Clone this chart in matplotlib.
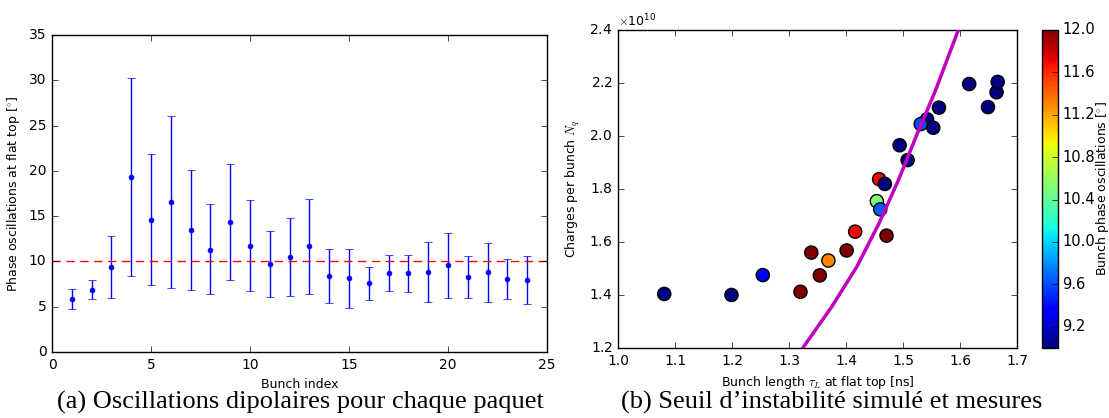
import numpy as np
import matplotlib
matplotlib.use("Agg")
import matplotlib.pyplot as plt
from matplotlib.ticker import ScalarFormatter

# (a) phase oscillations per bunch
bunch = list(range(1, 25))
phase = [5.9, 6.84, 9.4, 19.3, 14.6, 16.6, 13.5, 11.3, 14.4, 11.7, 9.7, 10.5,
         11.7, 8.4, 8.17, 7.6, 8.7, 8.7, 8.8, 9.6, 8.3, 8.8, 8.1, 8.0]
phase_hi = [7.0, 7.9, 12.8, 30.2, 21.85, 26.1, 20.05, 16.3, 20.75, 16.8, 13.35, 14.8,
            16.9, 11.4, 11.4, 9.4, 10.7, 10.7, 12.1, 13.1, 10.6, 12.07, 10.3, 10.56]
phase_lo = [4.74, 5.8, 6.0, 8.4, 7.35, 7.1, 6.9, 6.4, 8.0, 6.7, 6.07, 6.15,
            6.4, 5.37, 4.9, 5.74, 6.7, 6.6, 5.5, 6.0, 5.96, 5.5, 5.85, 5.3]
threshold = 10

# (b) measured bunches: length, intensity, phase oscillation
tau = [1.081, 1.199, 1.254, 1.320, 1.339, 1.354, 1.369, 1.401, 1.416, 1.471,
       1.454, 1.460, 1.458, 1.468, 1.508, 1.494, 1.542, 1.531, 1.553, 1.563,
       1.616, 1.649, 1.664, 1.666]
nq = [1.404, 1.400, 1.475, 1.412, 1.560, 1.474, 1.530, 1.568, 1.639, 1.624,
      1.754, 1.723, 1.837, 1.819, 1.909, 1.965, 2.063, 2.045, 2.031, 2.107,
      2.196, 2.109, 2.165, 2.204]
osc = [9.0, 9.0, 9.35, 12.0, 12.0, 12.0, 11.3, 12.0, 11.7, 12.0,
       10.5, 9.65, 11.7, 9.0, 9.0, 9.0, 9.0, 9.6, 9.0, 9.0,
       9.0, 9.0, 9.0, 9.0]
# simulated instability threshold
thr_tau = [1.324, 1.375, 1.419, 1.458, 1.492, 1.524, 1.556, 1.597]
thr_nq = [1.20, 1.356, 1.507, 1.671, 1.834, 2.004, 2.167, 2.40]

plt.style.use('classic')
plt.rcParams['font.family'] = 'DejaVu Sans'
plt.rcParams['mathtext.fontset'] = 'cm'

fig = plt.figure(figsize=(11.09, 4.18), dpi=100, facecolor='white')
ax1 = fig.add_axes([0.0469, 0.1579, 0.4464, 0.7584])
ax2 = fig.add_axes([0.5573, 0.1675, 0.3598, 0.7608])
cax = fig.add_axes([0.9396, 0.1675, 0.0144, 0.7608])

yerr = [np.array(phase) - np.array(phase_lo), np.array(phase_hi) - np.array(phase)]
ax1.errorbar(bunch, phase, yerr=yerr, fmt='o', color='b', ecolor='b',
             markersize=3.5, markeredgecolor='b', capsize=3, elinewidth=1)
ax1.axhline(threshold, color='r', linestyle='--', linewidth=1, dashes=(6, 4))
ax1.set_xlim(0, 25)
ax1.set_ylim(0, 35)
ax1.set_xlabel('Bunch index', fontsize=9)
ax1.set_ylabel(r'Phase oscillations at flat top [$^{\circ}$]', fontsize=9)
ax1.tick_params(labelsize=10)

tau_a = np.array(tau)
nq_a = np.array(nq) * 1e10
sc = ax2.scatter(tau_a, nq_a, c=osc, cmap='jet', vmin=9.0, vmax=12.0,
                 s=90, edgecolors='k', linewidths=1, zorder=2)
ax2.plot(thr_tau, np.array(thr_nq) * 1e10, color='m', linewidth=2.5, zorder=3)
ax2.set_xlim(1.0, 1.7)
ax2.set_ylim(1.2e10, 2.4e10)
ax2.set_xticks(np.arange(1.0, 1.71, 0.1))
ax2.set_yticks(np.arange(1.2e10, 2.41e10, 0.2e10))
fmt = ScalarFormatter(useMathText=True)
fmt.set_powerlimits((0, 0))
ax2.yaxis.set_major_formatter(fmt)
ax2.set_xlabel(r'Bunch length $\tau_L$ at flat top [ns]', fontsize=9)
ax2.set_ylabel(r'Charges per bunch $N_q$', fontsize=9)
ax2.tick_params(labelsize=10)
ax2.yaxis.get_offset_text().set_fontsize(9)

cb = fig.colorbar(sc, cax=cax)
cb.set_ticks(np.arange(9.2, 12.01, 0.4))
cb.ax.tick_params(labelsize=10.5, pad=3)
cb.set_label(r'Bunch phase oscillations [$^{\circ}$]', fontsize=9, labelpad=-1)

fig.text(0.2705, 0.036, '(a) Oscillations dipolaires pour chaque paquet',
         ha='center', va='center', fontsize=19, family='Liberation Serif')
fig.text(0.750, 0.036, '(b) Seuil d\u2019instabilit\u00e9 simul\u00e9 et mesures',
         ha='center', va='center', fontsize=19, family='Liberation Serif')

fig.savefig('out.png', dpi=100, facecolor='white')
